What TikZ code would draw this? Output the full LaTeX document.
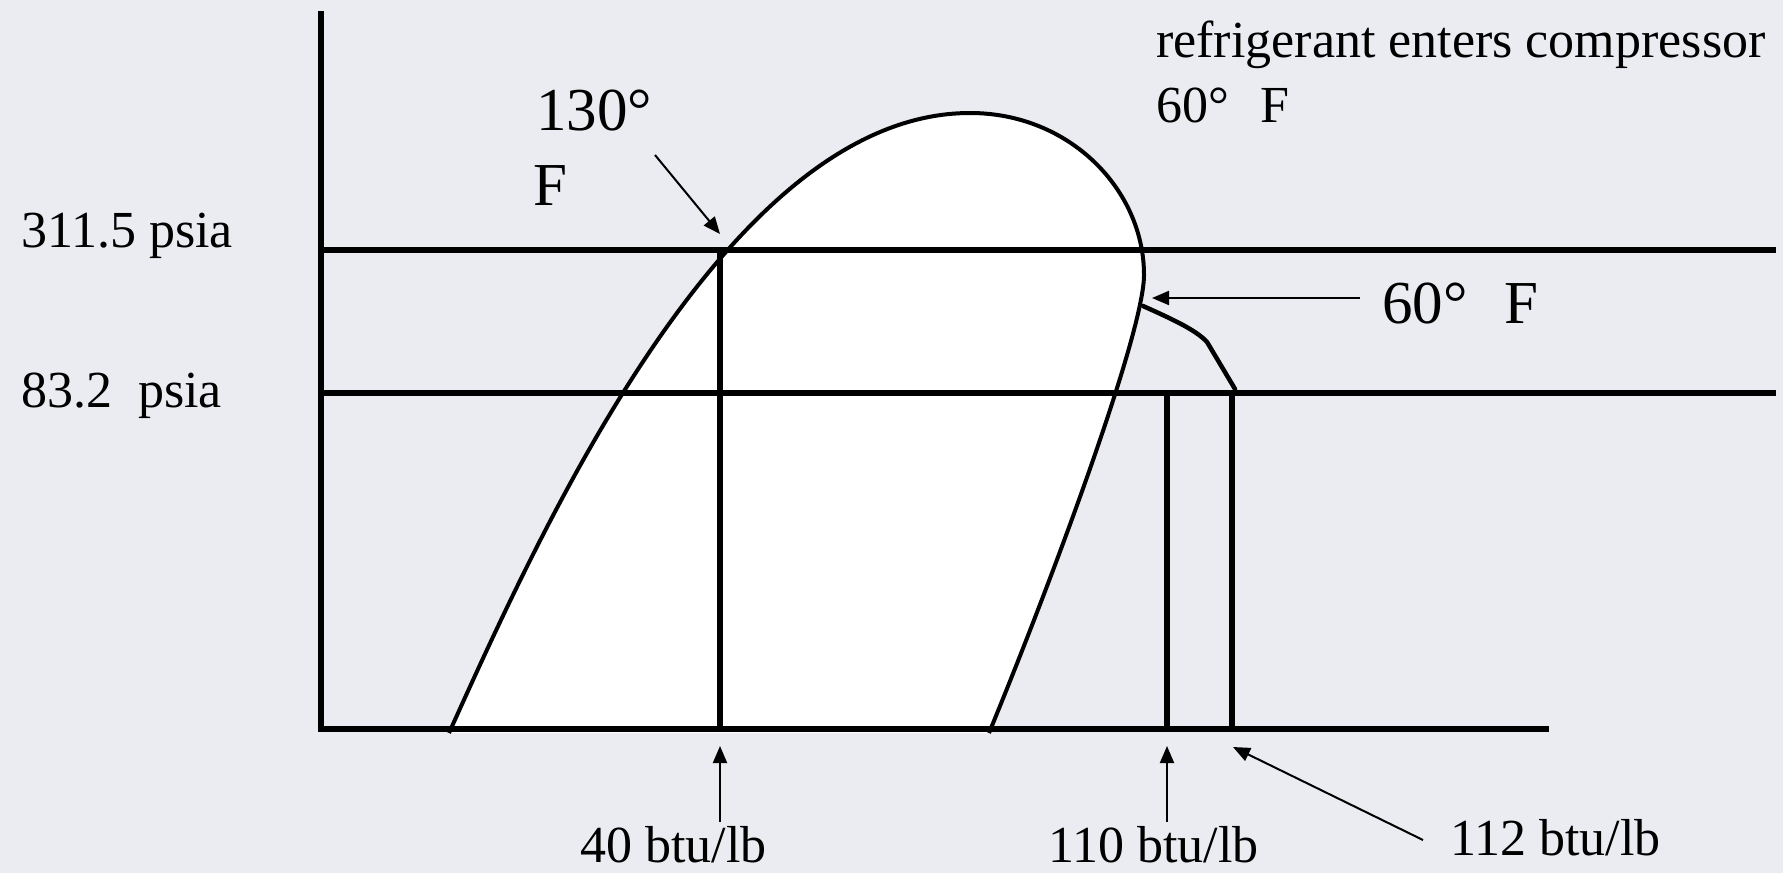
\documentclass[tikz,border=0pt]{standalone}
\usepackage{fontspec}
\setmainfont{Liberation Serif}
\usetikzlibrary{arrows.meta}
\definecolor{bg}{RGB}{234,236,241}
\begin{document}
\begin{tikzpicture}[x=1pt,y=-1pt,
  heavy/.style={line width=6pt},
  domeline/.style={line width=4pt, line join=round},
  pointer/.style={line width=2pt,-{Triangle[length=17pt,width=14pt]}},
  smalltext/.style={font=\fontsize{52}{60}\selectfont, inner sep=0pt, anchor=base west},
  largetext/.style={font=\fontsize{61}{72}\selectfont, inner sep=0pt, anchor=base west}]
\fill[bg] (0,0) rectangle (1783,873);
\useasboundingbox (0,0) rectangle (1783,873);

% dome
\coordinate (footL) at (449,733);
\coordinate (domeTop) at (970,113);
\coordinate (domeRight) at (1144,275);
\coordinate (footR) at (989,733);
\fill[white] (footL) .. controls (545,520) and (730,113) .. (domeTop)
  .. controls (1070,113) and (1144,190) .. (domeRight)
  .. controls (1144,330) and (1060,560) .. (footR) -- cycle;
\draw[domeline] (footL) .. controls (545,520) and (730,113) .. (domeTop)
  .. controls (1070,113) and (1144,190) .. (domeRight)
  .. controls (1144,330) and (1060,560) .. (footR);

% superheat curve
\coordinate (shStart) at (1143,306);
\coordinate (shEnd) at (1235,389);
\draw[line width=4.5pt, line cap=round] (shStart) .. controls (1172,319) and (1196,330) .. (1207,342) -- (shEnd);

% coordinates
\coordinate (axtop) at (321,11);
\coordinate (origin) at (321,729);
\coordinate (axright) at (1549,729);
\coordinate (hiL) at (321,250);
\coordinate (hiR) at (1776,250);
\coordinate (loL) at (321,393);
\coordinate (loR) at (1776,393);
\coordinate (v1top) at (720,250);
\coordinate (v1bot) at (720,729);
\coordinate (v2top) at (1167,393);
\coordinate (v2bot) at (1167,729);
\coordinate (v3top) at (1232,393);
\coordinate (v3bot) at (1232,729);

% lines
\draw[heavy] (hiL) -- (hiR);
\draw[heavy] (loL) -- (loR);
\draw[heavy] (v1top) -- (v1bot);
\draw[heavy] (v2top) -- (v2bot);
\draw[heavy] (v3top) -- (v3bot);
\draw[heavy] (axtop) -- (origin) -- (axright);

% labels
\node[smalltext] (p1) at (21,247) {311.5 psia};
\node[smalltext] (p2) at (21,407) {83.2\ \ psia};
\node[largetext] (t130) at (536,130) {130°};
\node[largetext] (t130F) at (533,205) {F};
\node[largetext] (t60) at (1382,323) {60°\hspace{0.6em}F};
\node[smalltext] (refr) at (1156,57) {refrigerant enters compressor};
\node[smalltext] (refr60) at (1156,122) {60°\hspace{0.6em}F};
\node[smalltext] (h40) at (580,862) {40 btu/lb};
\node[smalltext] (h110) at (1048,862) {110 btu/lb};
\node[smalltext] (h112) at (1450,855) {112 btu/lb};

% arrows
\coordinate (a130s) at (655,155);
\coordinate (a130e) at (720,234);
\coordinate (a60s) at (1360,298);
\coordinate (a60e) at (1152,298);
\coordinate (a40s) at (720,822);
\coordinate (a40e) at (720,746);
\coordinate (a110s) at (1167,822);
\coordinate (a110e) at (1167,746);
\coordinate (a112s) at (1423,840);
\coordinate (a112e) at (1233,747);
\draw[pointer] (a130s) -- (a130e);
\draw[pointer] (a60s) -- (a60e);
\draw[pointer] (a40s) -- (a40e);
\draw[pointer] (a110s) -- (a110e);
\draw[pointer] (a112s) -- (a112e);
\end{tikzpicture}
\end{document}
